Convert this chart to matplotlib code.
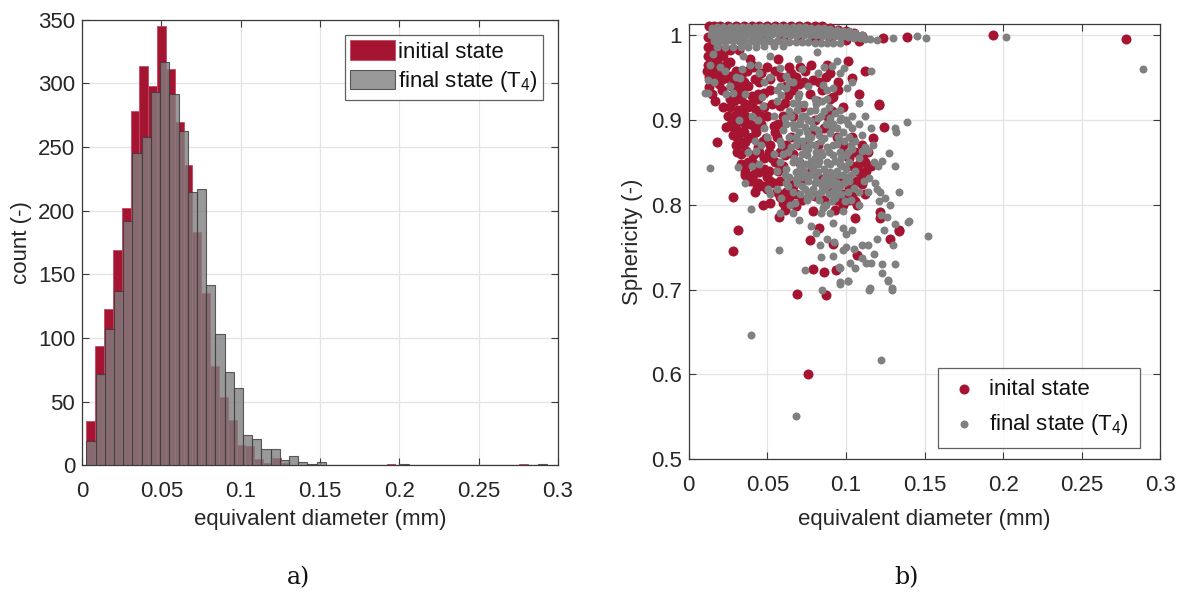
import matplotlib
matplotlib.use("Agg")
import matplotlib.pyplot as plt
import numpy as np

plt.rcParams['font.family'] = ['Liberation Sans', 'DejaVu Sans']
plt.rcParams['mathtext.default'] = 'regular'

# ---------------- histogram data ----------------
init_range = [0.0028, 0.281]
final_range = [0.0028, 0.293]
init_counts = [35, 94, 123, 169, 202, 278, 314, 298, 345, 311,
               270, 236, 183, 135, 78, 54, 36, 16, 15, 5,
               2, 6, 2, 0, 0, 0, 0, 0, 0, 0,
               0, 0, 0, 0, 1, 0, 0, 0, 0, 0,
               0, 0, 0, 0, 0, 0, 0, 0, 0, 1]
final_counts = [19, 72, 107, 137, 192, 245, 258, 293, 317, 292,
                263, 215, 217, 142, 103, 73, 61, 24, 21, 13,
                13, 4, 7, 3, 1, 3, 0, 0, 0, 0,
                0, 0, 0, 0, 1, 0, 0, 0, 0, 0,
                0, 0, 0, 0, 0, 0, 0, 0, 0, 1]

# ---------------- scatter data ----------------
init_d = [
    # top band
    0.013, 0.016, 0.020, 0.025, 0.030, 0.035, 0.040, 0.045, 0.050, 0.055, 0.060, 0.065,
    0.070, 0.075, 0.080, 0.085, 0.090, 0.095, 0.100, 0.105, 0.110,
    0.012, 0.014, 0.018, 0.022, 0.028, 0.034, 0.042, 0.050, 0.060, 0.070, 0.080, 0.090, 0.100, 0.108,
    0.012, 0.015, 0.020, 0.026, 0.032, 0.012, 0.016, 0.020,
    # scattered
    0.0125, 0.0114, 0.0131, 0.0157, 0.024, 0.023, 0.026, 0.0316, 0.037, 0.039, 0.040, 0.057,
    0.074, 0.0708, 0.079, 0.0877, 0.1015, 0.104, 0.121, 0.058, 0.063, 0.0814, 0.092, 0.1237,
    0.1386, 0.020, 0.028, 0.030, 0.034, 0.036, 0.045, 0.048, 0.052, 0.066, 0.072, 0.085,
    0.095, 0.098, 0.108, 0.112,
    0.0284, 0.0316, 0.0284, 0.0576, 0.0612, 0.0517, 0.0792, 0.093, 0.106, 0.107, 0.083, 0.077,
    0.0915, 0.107, 0.0788, 0.086, 0.0936, 0.1216, 0.1216, 0.128, 0.1337, 0.110, 0.106, 0.124,
    0.121, 0.117, 0.0178, 0.024, 0.0284, 0.0316, 0.0358, 0.0364, 0.0432, 0.0358, 0.041, 0.0496,
    0.058, 0.134, 0.069, 0.087, 0.076, 0.1932, 0.278,
    0.040, 0.044, 0.048, 0.052, 0.055, 0.045, 0.050, 0.060, 0.064, 0.068, 0.072, 0.100,
    0.104, 0.108, 0.112, 0.096, 0.102, 0.090, 0.075, 0.080, 0.088, 0.060, 0.065, 0.078,
    0.084, 0.070, 0.054, 0.046, 0.042, 0.038, 0.042, 0.047, 0.033, 0.038, 0.031, 0.044,
    0.015, 0.017, 0.019, 0.021, 0.018, 0.022, 0.026, 0.030, 0.027, 0.032, 0.034, 0.029,
    0.033, 0.038, 0.042, 0.046, 0.050, 0.044, 0.040, 0.036, 0.039, 0.043, 0.047, 0.051,
    0.035, 0.030, 0.033, 0.037, 0.041, 0.044, 0.048, 0.052, 0.056, 0.060, 0.064, 0.055,
    0.058, 0.062, 0.057, 0.061, 0.066, 0.068, 0.064, 0.073, 0.077, 0.083, 0.087, 0.091,
    0.094, 0.098, 0.102, 0.106, 0.110, 0.113, 0.104, 0.098, 0.094, 0.072, 0.068, 0.080,
    0.086, 0.082, 0.078, 0.086, 0.090, 0.070, 0.066, 0.025, 0.022, 0.027, 0.031,
    0.013, 0.015, 0.017, 0.019, 0.021, 0.023, 0.025, 0.027, 0.029, 0.031, 0.033, 0.035,
    0.037, 0.041, 0.045, 0.048, 0.052, 0.055, 0.059, 0.062,
    0.026, 0.029, 0.032, 0.036, 0.040, 0.043, 0.046, 0.050, 0.053, 0.056,
    0.028, 0.031, 0.034, 0.038, 0.041, 0.045, 0.049, 0.053, 0.057, 0.061,
    0.033, 0.036, 0.039, 0.043, 0.047, 0.051, 0.054, 0.058, 0.062, 0.066,
    0.108, 0.111, 0.114, 0.110, 0.106, 0.102, 0.098, 0.112, 0.116, 0.104,
    0.065, 0.070, 0.078, 0.090, 0.095,
]
init_s = [
    1.011, 1.011, 1.011, 1.011, 1.011, 1.011, 1.011, 1.011, 1.011, 1.011, 1.011, 1.011,
    1.011, 1.011, 1.010, 1.010, 1.008, 1.006, 1.004, 1.002, 0.999,
    0.998, 0.996, 0.997, 0.997, 0.997, 0.997, 0.997, 0.997, 0.997, 0.996, 0.996, 0.995, 0.994, 0.993,
    0.986, 0.984, 0.982, 0.982, 0.982, 0.975, 0.972, 0.978,
    0.965, 0.957, 0.939, 0.975, 0.965, 0.949, 0.924, 0.912, 0.916, 0.971, 0.965, 0.971,
    0.957, 0.962, 0.947, 0.965, 0.969, 0.949, 0.918, 0.916, 0.929, 0.922, 0.927, 0.996,
    0.998, 0.955, 0.940, 0.930, 0.905, 0.895, 0.900, 0.915, 0.935, 0.905, 0.915, 0.935,
    0.945, 0.915, 0.930, 0.957,
    0.809, 0.770, 0.745, 0.786, 0.794, 0.802, 0.792, 0.794, 0.784, 0.800, 0.773, 0.758,
    0.754, 0.741, 0.724, 0.721, 0.723, 0.791, 0.784, 0.759, 0.769, 0.824, 0.804, 0.891,
    0.917, 0.878, 0.874, 0.892, 0.892, 0.879, 0.874, 0.863, 0.821, 0.839, 0.849, 0.833,
    0.809, 0.770, 0.695, 0.694, 0.600, 1.000, 0.995,
    0.880, 0.868, 0.855, 0.870, 0.885, 0.838, 0.818, 0.845, 0.825, 0.812, 0.830, 0.860,
    0.845, 0.838, 0.850, 0.830, 0.820, 0.815, 0.870, 0.900, 0.905, 0.905, 0.880, 0.840,
    0.830, 0.850, 0.893, 0.905, 0.890, 0.850, 0.815, 0.800, 0.912, 0.915, 0.880, 0.925,
    0.960, 0.950, 0.942, 0.935, 0.968, 0.975, 0.968, 0.958, 0.952, 0.945, 0.935, 0.922,
    0.925, 0.940, 0.948, 0.955, 0.962, 0.930, 0.920, 0.905, 0.895, 0.885, 0.875, 0.862,
    0.885, 0.870, 0.860, 0.845, 0.835, 0.825, 0.842, 0.828, 0.815, 0.802, 0.808, 0.850,
    0.862, 0.870, 0.895, 0.920, 0.935, 0.950, 0.962, 0.945, 0.930, 0.945, 0.950, 0.910,
    0.880, 0.870, 0.855, 0.862, 0.870, 0.840, 0.810, 0.812, 0.805, 0.805, 0.798, 0.810,
    0.805, 0.870, 0.885, 0.890, 0.925, 0.870, 0.860, 0.905, 0.915, 0.895, 0.888,
    0.950, 0.930, 0.922, 0.958, 0.948, 0.962, 0.952, 0.940, 0.948, 0.938, 0.950, 0.945,
    0.958, 0.962, 0.945, 0.932, 0.948, 0.958, 0.950, 0.940,
    0.915, 0.905, 0.898, 0.918, 0.928, 0.912, 0.895, 0.905, 0.918, 0.880,
    0.882, 0.862, 0.872, 0.878, 0.858, 0.862, 0.878, 0.855, 0.840, 0.858,
    0.848, 0.835, 0.828, 0.842, 0.822, 0.840, 0.825, 0.828, 0.815, 0.822,
    0.848, 0.858, 0.862, 0.835, 0.828, 0.805, 0.800, 0.812, 0.845, 0.880,
    0.955, 0.942, 0.965, 0.955, 0.935,
]

final_d = [
    # top band
    0.015, 0.018, 0.022, 0.026, 0.030, 0.034, 0.038, 0.042, 0.046, 0.050, 0.054, 0.058, 0.062,
    0.066, 0.070, 0.074, 0.078, 0.082, 0.086, 0.090, 0.094, 0.098, 0.102, 0.106, 0.110,
    0.014, 0.017, 0.021, 0.025, 0.029, 0.033, 0.037, 0.041, 0.045, 0.049, 0.053, 0.057, 0.061,
    0.065, 0.069, 0.073, 0.077, 0.081, 0.085, 0.089, 0.093, 0.097, 0.101, 0.105, 0.109, 0.112,
    0.016, 0.020, 0.024, 0.028, 0.032, 0.036, 0.040, 0.044, 0.048, 0.052, 0.056, 0.060, 0.064,
    0.068, 0.072, 0.076, 0.080, 0.084, 0.088, 0.092, 0.096,
    0.018, 0.023, 0.028, 0.033, 0.038, 0.043, 0.048, 0.054, 0.060,
    0.015, 0.019, 0.023, 0.027, 0.031, 0.035, 0.039, 0.043, 0.047, 0.051, 0.055, 0.059, 0.063,
    0.067, 0.071, 0.075, 0.079, 0.083, 0.087, 0.091, 0.095, 0.099, 0.103, 0.107,
    0.016, 0.020, 0.025, 0.030, 0.035, 0.040, 0.045, 0.050,
    # scattered
    0.0136, 0.0125, 0.012, 0.0104, 0.0157, 0.023, 0.028, 0.0326, 0.0348, 0.045, 0.039, 0.0517,
    0.058, 0.0619, 0.0697, 0.0814, 0.0856, 0.091, 0.094, 0.099, 0.1004, 0.1157, 0.0464, 0.0475,
    0.056, 0.059, 0.062, 0.0665, 0.0697, 0.0877, 0.092, 0.1153, 0.1195, 0.130, 0.145, 0.1508,
    0.202, 0.289,
    0.0394, 0.0574, 0.058, 0.0856, 0.098, 0.078, 0.081, 0.092, 0.098, 0.0835, 0.0926, 0.098,
    0.100, 0.105, 0.110, 0.114, 0.110, 0.113, 0.1157, 0.1025, 0.0958, 0.074, 0.0962, 0.0962,
    0.101, 0.1148, 0.1227, 0.1227, 0.131, 0.127, 0.129, 0.122, 0.130, 0.1312, 0.1396, 0.152,
    0.121, 0.1248, 0.1216, 0.1195, 0.1184, 0.1117, 0.1148, 0.103, 0.0994, 0.093, 0.086, 0.0676,
    0.075, 0.091, 0.131, 0.1275, 0.123, 0.1205, 0.117, 0.1142, 0.110, 0.131, 0.1318, 0.1386,
    0.0136, 0.0428, 0.0316, 0.045, 0.0506, 0.0559, 0.0517, 0.0644, 0.059, 0.14, 0.085, 0.096,
    0.101, 0.115, 0.129, 0.127, 0.0398, 0.1224, 0.068,
    0.066, 0.070, 0.074, 0.078, 0.082, 0.086, 0.090, 0.094, 0.068, 0.072, 0.076, 0.080,
    0.084, 0.088, 0.092, 0.096, 0.100, 0.066, 0.070, 0.074, 0.078, 0.082, 0.086, 0.090,
    0.094, 0.098, 0.072, 0.076, 0.080, 0.084, 0.088, 0.092, 0.060, 0.062, 0.058, 0.064,
    0.072, 0.080, 0.088, 0.096, 0.102, 0.104, 0.108, 0.050, 0.054, 0.056, 0.062, 0.068,
    0.066, 0.106, 0.102, 0.070, 0.084, 0.092, 0.098, 0.076, 0.046, 0.040, 0.036, 0.032,
    0.052, 0.058, 0.076, 0.082, 0.104, 0.108,
    0.068, 0.072, 0.076, 0.080, 0.084, 0.088, 0.092, 0.096, 0.100, 0.070, 0.074, 0.078,
    0.082, 0.086, 0.090, 0.094, 0.098, 0.102, 0.068, 0.072, 0.076, 0.080, 0.084, 0.088,
    0.092, 0.096, 0.100, 0.074, 0.078, 0.082, 0.086, 0.090, 0.094, 0.070, 0.074, 0.078,
    0.082, 0.086, 0.090, 0.094, 0.064, 0.060, 0.062, 0.058, 0.064, 0.106, 0.110, 0.112,
    0.104, 0.100, 0.096, 0.080, 0.088, 0.070, 0.066, 0.054, 0.048, 0.044, 0.042, 0.038,
    0.040, 0.036, 0.026, 0.030, 0.034, 0.020, 0.016, 0.024, 0.044, 0.048, 0.056, 0.064,
    0.072, 0.086, 0.096, 0.104, 0.108, 0.112, 0.116, 0.118, 0.114, 0.108, 0.108, 0.090,
    0.084, 0.070, 0.066, 0.104, 0.100, 0.088, 0.084, 0.092, 0.106, 0.118, 0.120, 0.124,
    0.126, 0.128, 0.134,
    0.065, 0.069, 0.073, 0.077, 0.081, 0.085, 0.089, 0.093, 0.097, 0.101,
    0.067, 0.071, 0.075, 0.079, 0.083, 0.087, 0.091, 0.095, 0.099, 0.103,
    0.065, 0.069, 0.073, 0.077, 0.081, 0.085, 0.089, 0.093, 0.097, 0.101,
    0.067, 0.071, 0.075, 0.079, 0.083, 0.087, 0.091, 0.095, 0.099, 0.103,
    0.069, 0.073, 0.077, 0.081, 0.085, 0.089, 0.093, 0.097, 0.101, 0.105,
    0.071, 0.075, 0.079, 0.083, 0.087, 0.063, 0.061, 0.059, 0.063, 0.061,
]
final_s = [
    1.008, 1.009, 1.009, 1.009, 1.009, 1.009, 1.009, 1.009, 1.009, 1.009, 1.009, 1.009, 1.009,
    1.009, 1.009, 1.009, 1.008, 1.008, 1.008, 1.007, 1.006, 1.005, 1.004, 1.002, 1.000,
    1.000, 1.001, 1.001, 1.001, 1.001, 1.001, 1.001, 1.001, 1.001, 1.001, 1.001, 1.001, 1.001,
    1.000, 1.000, 1.000, 1.000, 1.000, 0.999, 0.999, 0.999, 0.998, 0.997, 0.996, 0.996, 0.995,
    0.993, 0.993, 0.993, 0.993, 0.993, 0.993, 0.993, 0.993, 0.993, 0.993, 0.993, 0.993, 0.992,
    0.992, 0.992, 0.992, 0.991, 0.991, 0.991, 0.990, 0.990,
    0.986, 0.986, 0.986, 0.986, 0.986, 0.986, 0.987, 0.987, 0.987,
    1.005, 1.005, 1.005, 1.005, 1.005, 1.005, 1.005, 1.005, 1.005, 1.005, 1.005, 1.005, 1.005,
    1.005, 1.005, 1.004, 1.004, 1.004, 1.003, 1.003, 1.002, 1.001, 1.000, 0.999,
    0.997, 0.997, 0.997, 0.997, 0.997, 0.996, 0.996, 0.996,
    0.965, 0.947, 0.931, 0.931, 0.978, 0.957, 0.931, 0.949, 0.975, 0.955, 0.965, 0.975,
    0.961, 0.952, 0.971, 0.980, 0.941, 0.963, 0.969, 0.961, 0.937, 0.957, 0.927, 0.916,
    0.922, 0.929, 0.937, 0.945, 0.927, 0.924, 0.937, 0.995, 0.994, 0.996, 0.999, 0.996,
    0.998, 0.960,
    0.795, 0.747, 0.790, 0.796, 0.792, 0.775, 0.766, 0.778, 0.773, 0.753, 0.756, 0.746,
    0.750, 0.748, 0.753, 0.752, 0.737, 0.731, 0.731, 0.731, 0.726, 0.723, 0.725, 0.707,
    0.710, 0.700, 0.730, 0.719, 0.730, 0.710, 0.700, 0.788, 0.752, 0.777, 0.779, 0.763,
    0.804, 0.808, 0.815, 0.819, 0.826, 0.828, 0.831, 0.806, 0.804, 0.808, 0.798, 0.802,
    0.809, 0.804, 0.846, 0.861, 0.852, 0.845, 0.870, 0.863, 0.863, 0.890, 0.885, 0.897,
    0.843, 0.863, 0.844, 0.848, 0.819, 0.819, 0.812, 0.800, 0.808, 0.781, 0.700, 0.709,
    0.710, 0.702, 0.702, 0.711, 0.647, 0.617, 0.551,
    0.895, 0.885, 0.892, 0.880, 0.888, 0.878, 0.884, 0.872, 0.870, 0.860, 0.865, 0.855,
    0.862, 0.850, 0.858, 0.848, 0.842, 0.850, 0.840, 0.835, 0.845, 0.838, 0.830, 0.838,
    0.825, 0.835, 0.822, 0.815, 0.825, 0.815, 0.822, 0.815, 0.860, 0.842, 0.875, 0.910,
    0.905, 0.912, 0.895, 0.900, 0.880, 0.865, 0.855, 0.880, 0.860, 0.840, 0.825, 0.830,
    0.815, 0.840, 0.828, 0.918, 0.905, 0.895, 0.885, 0.900, 0.870, 0.905, 0.930, 0.900,
    0.950, 0.940, 0.940, 0.955, 0.905, 0.895,
    0.880, 0.875, 0.878, 0.870, 0.875, 0.868, 0.870, 0.862, 0.858, 0.852, 0.848, 0.852,
    0.848, 0.842, 0.848, 0.840, 0.845, 0.850, 0.838, 0.832, 0.828, 0.835, 0.825, 0.830,
    0.828, 0.822, 0.832, 0.818, 0.810, 0.812, 0.818, 0.825, 0.815, 0.895, 0.905, 0.898,
    0.902, 0.910, 0.902, 0.890, 0.880, 0.888, 0.895, 0.850, 0.832, 0.875, 0.882, 0.868,
    0.890, 0.900, 0.912, 0.925, 0.935, 0.930, 0.920, 0.905, 0.890, 0.900, 0.875, 0.862,
    0.845, 0.825, 0.940, 0.950, 0.960, 0.962, 0.945, 0.930, 0.965, 0.945, 0.935, 0.945,
    0.960, 0.962, 0.955, 0.945, 0.920, 0.905, 0.890, 0.850, 0.815, 0.800, 0.815, 0.790,
    0.790, 0.782, 0.790, 0.770, 0.765, 0.760, 0.738, 0.740, 0.725, 0.742, 0.760, 0.770,
    0.785, 0.800, 0.815,
    0.905, 0.912, 0.918, 0.910, 0.918, 0.922, 0.915, 0.908, 0.902, 0.895,
    0.890, 0.898, 0.885, 0.892, 0.882, 0.895, 0.890, 0.880, 0.875, 0.870,
    0.868, 0.875, 0.868, 0.872, 0.862, 0.858, 0.862, 0.852, 0.855, 0.862,
    0.855, 0.845, 0.858, 0.842, 0.852, 0.835, 0.832, 0.835, 0.825, 0.835,
    0.825, 0.840, 0.835, 0.828, 0.822, 0.812, 0.820, 0.812, 0.815, 0.820,
    0.812, 0.805, 0.818, 0.805, 0.800, 0.822, 0.835, 0.870, 0.862, 0.902,
]

RED = '#A51431'
GRAY = '#808080'
TXT = '#262626'
FS = 16

fig = plt.figure(figsize=(11.85, 5.92), dpi=100)


def style_axes(ax):
    for sp in ax.spines.values():
        sp.set_color('#3a3a3a')
        sp.set_linewidth(0.9)
    ax.tick_params(direction='in', top=True, right=True, length=5, width=0.8,
                   colors='#3a3a3a', labelcolor=TXT, labelsize=FS)
    ax.tick_params(axis='x', pad=11.5)
    ax.tick_params(axis='y', pad=5)
    ax.grid(True, color='#e3e3e3', linewidth=0.9)
    ax.set_axisbelow(True)


# ---------------- (a) histogram ----------------
ax1 = fig.add_axes([0.0692, 0.2139, 0.4017, 0.7527])
style_axes(ax1)
ie = np.linspace(init_range[0], init_range[1], len(init_counts) + 1)
fe = np.linspace(final_range[0], final_range[1], len(final_counts) + 1)
ax1.bar(ie[:-1], init_counts, width=np.diff(ie), align='edge', color=RED,
        edgecolor='#c24a64', linewidth=0.6, label='initial state', zorder=2)
ax1.bar(fe[:-1], final_counts, width=np.diff(fe), align='edge', color=GRAY, alpha=0.8,
        edgecolor='#3a3a3a', linewidth=0.8, label='final state (T$_4$)', zorder=3)
ax1.set_xlim(0, 0.3)
ax1.set_ylim(0, 350)
ax1.set_xticks([0, 0.05, 0.1, 0.15, 0.2, 0.25, 0.3])
ax1.set_xticklabels(['0', '0.05', '0.1', '0.15', '0.2', '0.25', '0.3'])
ax1.set_yticks(range(0, 351, 50))
ax1.set_xlabel('equivalent diameter (mm)', fontsize=FS, color=TXT, labelpad=5)
ax1.set_ylabel('count (-)', fontsize=FS, color=TXT, labelpad=4)
leg1 = ax1.legend(loc='upper right', bbox_to_anchor=(0.9685, 0.966), borderaxespad=0,
                  fontsize=FS, frameon=True, fancybox=False,
                  edgecolor='#3a3a3a', borderpad=0.25, handlelength=2.0,
                  handleheight=0.95, handletextpad=0.12, labelspacing=0.3)
leg1.get_frame().set_linewidth(0.9)
for t in leg1.get_texts():
    t.set_color('#111111')

# ---------------- (b) scatter ----------------
ax2 = fig.add_axes([0.5812, 0.2242, 0.3981, 0.7348])
style_axes(ax2)
ax2.scatter(init_d, init_s, s=52, color=RED, linewidths=0, label='inital state',
            zorder=3, clip_on=False)
ax2.scatter(final_d, final_s, s=33, color=GRAY, linewidths=0, label='final state (T$_4$)',
            zorder=4, clip_on=False)
ax2.set_xlim(0, 0.3)
ax2.set_ylim(0.5, 1.0125)
ax2.set_xticks([0, 0.05, 0.1, 0.15, 0.2, 0.25, 0.3])
ax2.set_xticklabels(['0', '0.05', '0.1', '0.15', '0.2', '0.25', '0.3'])
ax2.set_yticks([0.5, 0.6, 0.7, 0.8, 0.9, 1.0])
ax2.set_yticklabels(['0.5', '0.6', '0.7', '0.8', '0.9', '1'])
ax2.set_xlabel('equivalent diameter (mm)', fontsize=FS, color=TXT, labelpad=9)
ax2.set_ylabel('Sphericity (-)', fontsize=FS, color=TXT, labelpad=6)
leg2 = ax2.legend(loc='lower right', bbox_to_anchor=(0.9566, 0.026), borderaxespad=0,
                  fontsize=FS, frameon=True, fancybox=False,
                  edgecolor='#3a3a3a', borderpad=0.5, handlelength=1.35,
                  handletextpad=0.45, labelspacing=0.55)
leg2.get_frame().set_linewidth(0.9)
for t in leg2.get_texts():
    t.set_color('#111111')

fig.text(0.2523, 0.0236, 'a)', family='DejaVu Serif', fontsize=17, ha='center',
         va='center', color='#111111')
fig.text(0.7654, 0.0236, 'b)', family='DejaVu Serif', fontsize=17, ha='center',
         va='center', color='#111111')

fig.savefig('out.png', dpi=100, facecolor='white')
